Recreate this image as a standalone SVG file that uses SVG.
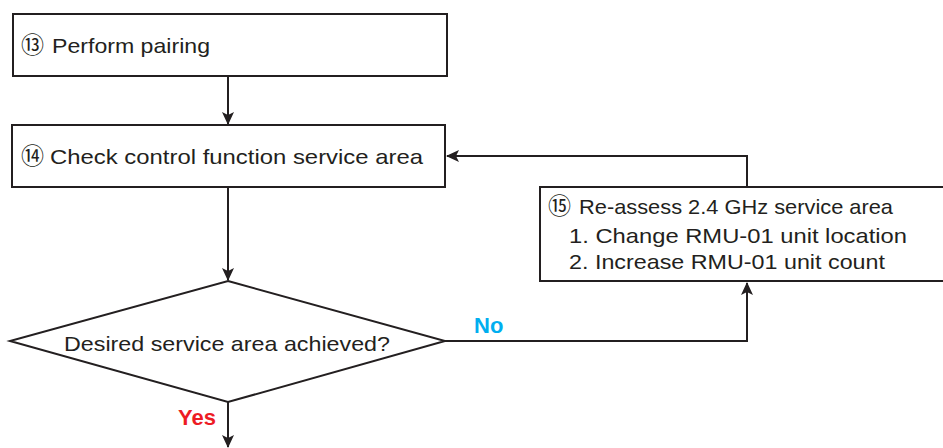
<svg xmlns="http://www.w3.org/2000/svg" width="943" height="448" viewBox="0 0 943 448">
<style>
.box{fill:#fff;stroke:#231f20;stroke-width:2}
.t{font-family:"Liberation Sans","Noto Sans CJK JP",sans-serif;font-size:21px;fill:#231f20}
.n{font-family:"Noto Sans CJK JP","DejaVu Sans",sans-serif;font-size:23px;fill:#231f20}
.c{fill:none;stroke:#231f20;stroke-width:2}
.lbl{font-family:"Liberation Sans",sans-serif;font-size:22px;font-weight:bold}
</style>
<defs>
<marker id="ah" markerWidth="13" markerHeight="12" refX="12" refY="6" orient="auto" markerUnits="userSpaceOnUse" viewBox="0 0 13 12">
<path d="M0,0 L13,6 L0,12 L3,6 Z" fill="#231f20"/>
</marker>
</defs>
<g id="connectors">
<line class="c" x1="228" y1="76" x2="228" y2="124" marker-end="url(#ah)"/>
<line class="c" x1="228" y1="187" x2="228" y2="280" marker-end="url(#ah)"/>
<polyline class="c" points="747,187 747,156 447,156" marker-end="url(#ah)"/>
<polyline class="c" points="445,341 747,341 747,283" marker-end="url(#ah)"/>
<line class="c" x1="228" y1="402" x2="228" y2="447" marker-end="url(#ah)"/>
<text class="lbl" x="474" y="333" fill="#00aeef">No</text>
<text class="lbl" x="178" y="425" fill="#ed1c24">Yes</text>
</g>
<g id="n13">
<rect class="box" x="13" y="14" width="434" height="62"/>
<text class="n" x="21" y="53">⑬</text>
<text class="t" x="52" y="53" textLength="158" lengthAdjust="spacingAndGlyphs">Perform pairing</text>
</g>
<g id="n14">
<rect class="box" x="12" y="125" width="433" height="62"/>
<text class="n" x="21" y="164">⑭</text>
<text class="t" x="50" y="164" textLength="373" lengthAdjust="spacingAndGlyphs">Check control function service area</text>
</g>
<g id="n15">
<rect class="box" x="540" y="187" width="410" height="94"/>
<text class="n" x="548" y="214">⑮</text>
<text class="t" x="579" y="214" textLength="314" lengthAdjust="spacingAndGlyphs">Re-assess 2.4 GHz service area</text>
<text class="t" x="569" y="243" textLength="338" lengthAdjust="spacingAndGlyphs">1. Change RMU-01 unit location</text>
<text class="t" x="569" y="269" textLength="316" lengthAdjust="spacingAndGlyphs">2. Increase RMU-01 unit count</text>
</g>
<g id="decision">
<polygon class="box" points="228,281 445,341 228,402 10,341"/>
<text class="t" x="64" y="351" textLength="326" lengthAdjust="spacingAndGlyphs">Desired service area achieved?</text>
</g>
</svg>
